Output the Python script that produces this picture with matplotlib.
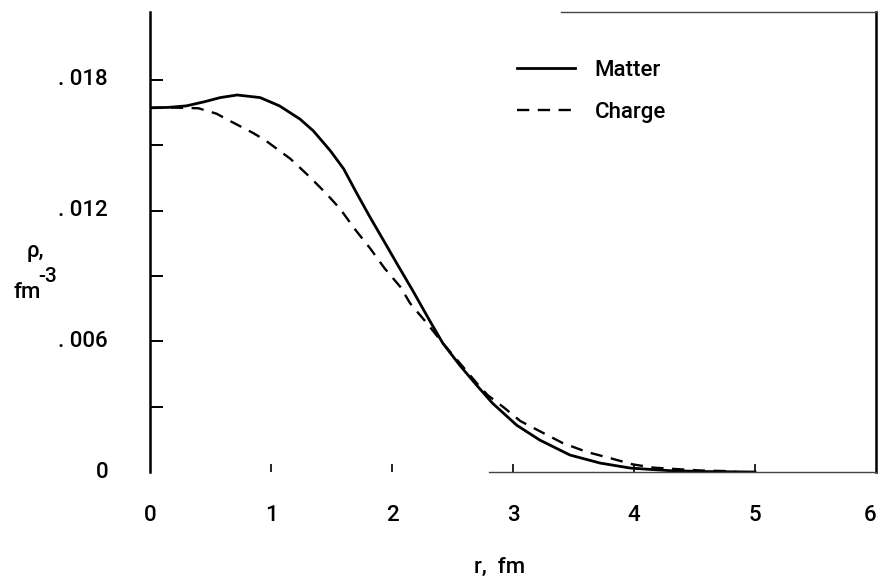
import matplotlib
matplotlib.use("Agg")
import matplotlib.pyplot as plt

plt.rcParams["font.family"] = ["Roboto", "DejaVu Sans"]
plt.rcParams["font.weight"] = "medium"

# radius, fm
r_matter = [0.0, 0.15, 0.3, 0.45, 0.58, 0.72, 0.91, 1.07, 1.24, 1.35, 1.49,
            1.6, 1.71, 1.82, 1.93, 2.04, 2.17, 2.31, 2.42, 2.56, 2.70, 2.83,
            3.03, 3.22, 3.47, 3.72, 3.97, 4.3, 4.6, 5.0]
rho_matter = [0.01672, 0.01674, 0.01681, 0.01700, 0.01719, 0.01731, 0.01719,
              0.01681, 0.01620, 0.01566, 0.01475, 0.01392, 0.01278, 0.01168,
              0.01063, 0.00957, 0.00834, 0.00696, 0.00591, 0.00490, 0.00398,
              0.00316, 0.00215, 0.00147, 0.00078, 0.00041, 0.00018, 0.00006,
              0.00002, 0.0]

r_charge = [0.0, 0.2, 0.4, 0.55, 0.66, 0.85, 0.95, 1.16, 1.31, 1.45, 1.57,
            1.69, 1.82, 1.94, 2.07, 2.15, 2.29, 2.42, 2.56, 2.70, 2.79, 2.92,
            3.06, 3.25, 3.41, 3.61, 3.80, 3.99, 4.16, 4.36, 4.55, 4.77, 4.85]
rho_charge = [0.01672, 0.01673, 0.01670, 0.01645, 0.01612, 0.01557, 0.01524,
              0.01438, 0.01360, 0.01282, 0.01209, 0.01117, 0.01026, 0.00934,
              0.00849, 0.00774, 0.00682, 0.00591, 0.00500, 0.00408, 0.00353,
              0.00298, 0.00234, 0.00179, 0.00133, 0.00092, 0.00064, 0.00035,
              0.00020, 0.00013, 0.00007, 0.00004, 0.0]

x_ticks = [1, 2, 3, 4, 5]
x_tick_labels = ["0", "1", "2", "3", "4", "5", "6"]
y_ticks = [0.003, 0.006, 0.009, 0.012, 0.015, 0.018]
y_label_values = [0, 0.006, 0.012, 0.018]
y_tick_labels = ["0", ". 006", ". 012", ". 018"]

fig = plt.figure(figsize=(8.8, 5.82), dpi=100)
ax = fig.add_axes([0.1705, 0.189, 0.825, 0.790])

ax.plot(r_matter, rho_matter, color="black", lw=2.0, label="Matter",
        solid_joinstyle="round")
ax.plot(r_charge, rho_charge, color="black", lw=1.7,
        linestyle=(0, (5.2, 3.6)), label="Charge")

ax.set_xlim(0, 6)
ax.set_ylim(0, 0.02111)

# partial frame, as on the original drawing
for side in ["left", "right"]:
    ax.spines[side].set_linewidth(1.8)
for side in ["top", "bottom"]:
    ax.spines[side].set_linewidth(1.0)
    ax.spines[side].set_color("#444444")
ax.spines["bottom"].set_bounds(2.8, 6)
ax.spines["top"].set_bounds(3.4, 6)

ax.set_xticks(x_ticks)
ax.set_xticklabels([])
ax.tick_params(axis="x", direction="in", length=6, width=1.2)
ax.set_yticks(y_ticks)
ax.set_yticklabels([])
ax.tick_params(axis="y", direction="in", length=9, width=1.4)

fs = 16
for i, lab in enumerate(x_tick_labels):
    dx = -6 if i == 6 else 0
    ax.annotate(lab, (i, 0), xycoords="data", xytext=(dx, -43),
                textcoords="offset pixels", ha="center", va="center", fontsize=fs)
for v, lab in zip(y_label_values, y_tick_labels):
    ax.annotate(lab, (0, v), xycoords="data", xytext=(-42, 0),
                textcoords="offset pixels", ha="right", va="center", fontsize=fs)

fig.text(500 / 880, 1 - 567 / 582, "r,  fm", ha="center", va="center", fontsize=fs)
fig.text(27 / 880, 1 - 252 / 582, "ρ,", ha="left", va="center", fontsize=fs)
fig.text(13 / 880, 1 - 293 / 582, "fm", ha="left", va="center", fontsize=fs)
fig.text(38 / 880, 1 - 277 / 582, "-3", ha="left", va="center", fontsize=fs - 1)

ax.legend(loc="upper left", bbox_to_anchor=(0.478, 0.94), frameon=False,
          fontsize=fs, handlelength=2.6, handletextpad=0.9, labelspacing=0.95)

fig.savefig("out.png", dpi=100)
